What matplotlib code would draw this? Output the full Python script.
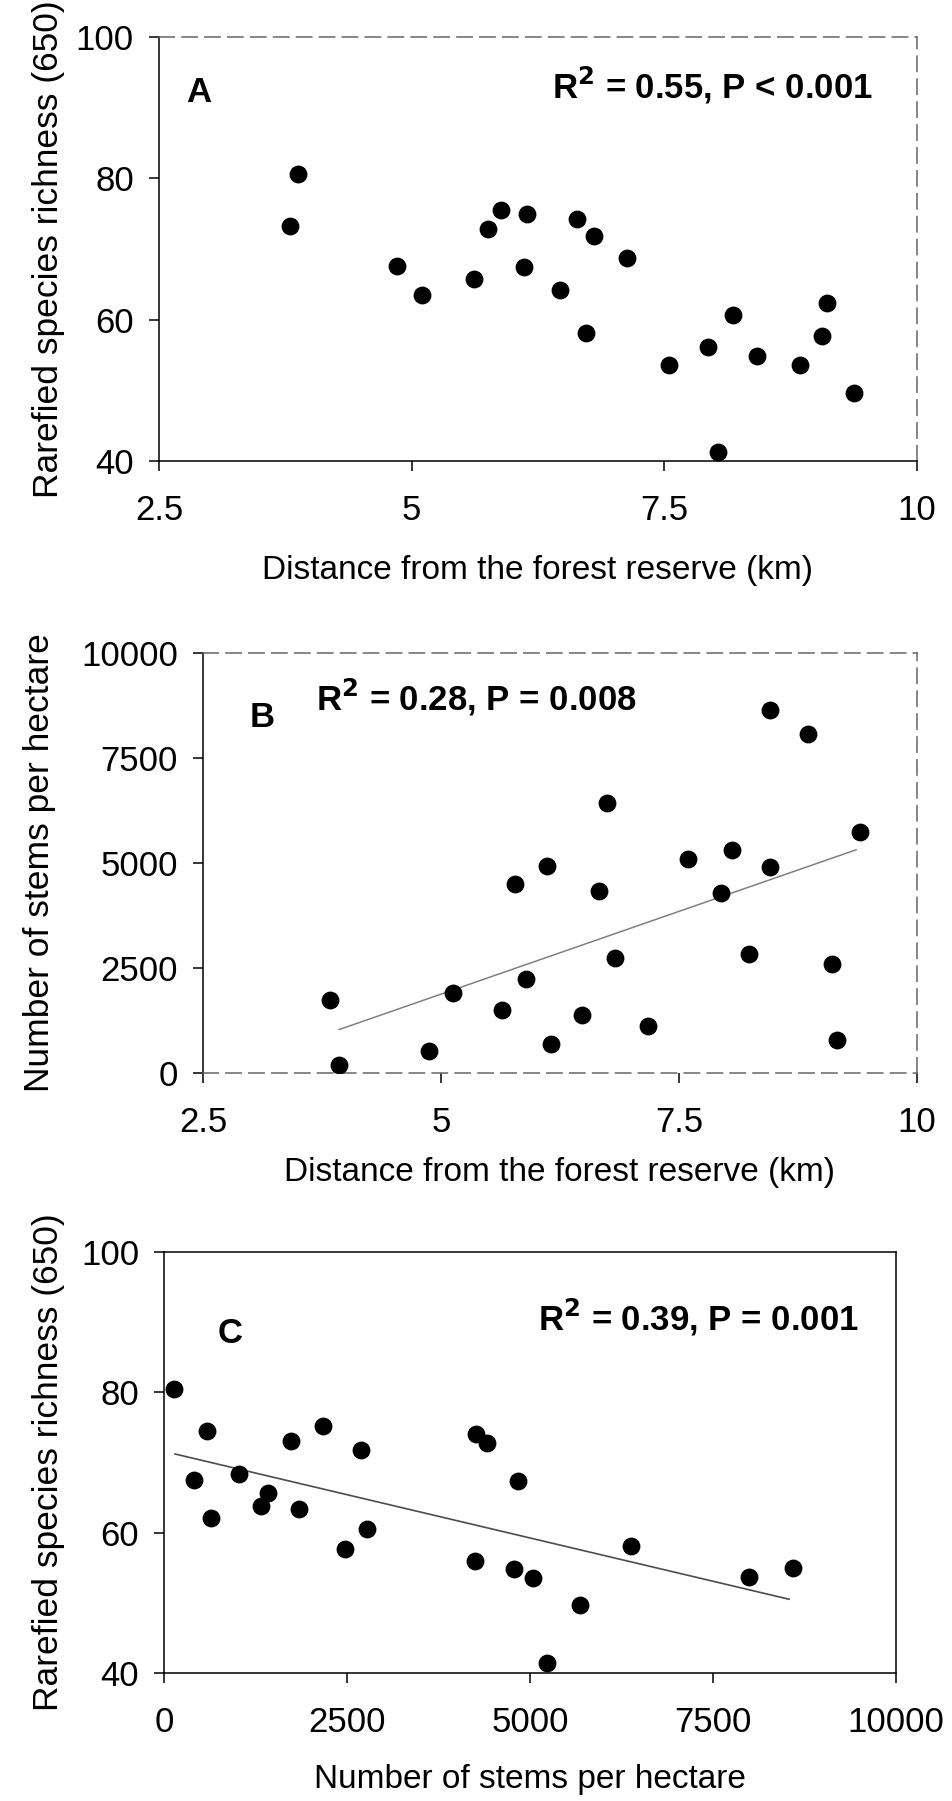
import numpy as np
import matplotlib.pyplot as plt

plt.rcParams['font.family'] = ['Liberation Sans', 'DejaVu Sans']

# panel A: distance vs rarefied richness
dist_a = [3.80, 3.88, 4.86, 5.10, 5.62, 5.76, 5.88, 6.11, 6.14, 6.47, 6.64, 6.73,
          6.80, 7.13, 7.55, 7.93, 8.03, 8.18, 8.42, 8.84, 9.06, 9.11, 9.38]
rich_a = [73.2, 80.6, 67.6, 63.5, 65.7, 72.8, 75.5, 67.4, 75.0, 64.2, 74.3, 58.1,
          71.9, 68.7, 53.6, 56.2, 41.3, 60.7, 54.9, 53.6, 57.7, 62.3, 49.7]

# panel B: distance vs stems per hectare
dist_b = [3.83, 3.93, 4.87, 5.13, 5.64, 5.78, 5.89, 6.11, 6.16, 6.48, 6.66, 6.74,
          6.83, 7.17, 7.59, 7.94, 8.06, 8.24, 8.46, 8.46, 8.86, 9.11, 9.16, 9.40]
stems_b = [1740, 180, 520, 1910, 1490, 4500, 2230, 4920, 680, 1390, 4340, 6440,
           2730, 1120, 5100, 4280, 5310, 2830, 4900, 8650, 8070, 2590, 780, 5750]
trend_b_x = [3.93, 9.36]
trend_b_y = [1035, 5315]

# panel C: stems per hectare vs rarefied richness
stems_c = [133, 415, 590, 648, 1022, 1329, 1420, 1728, 1844, 2168, 2475, 2691,
           2774, 4244, 4261, 4410, 4784, 4842, 5042, 5233, 5689, 6379, 7990, 8588]
rich_c = [80.4, 67.5, 74.5, 62.1, 68.4, 63.8, 65.7, 73.1, 63.3, 75.2, 57.6, 71.7,
          60.5, 56.0, 74.1, 72.7, 54.8, 67.3, 53.6, 41.4, 49.7, 58.1, 53.7, 55.0]
trend_c_x = [150, 8540]
trend_c_y = [71.2, 50.5]

dist_ticks = [2.5, 5, 7.5, 10]
dist_ticklabels = ['2.5', '5', '7.5', '10']
rich_ticks = [40, 60, 80, 100]
stem_ticks = [0, 2500, 5000, 7500, 10000]

fig = plt.figure(figsize=(9.53, 18.01), dpi=100)
axA = fig.add_axes([0.1668, 0.744, 0.7954, 0.2354])
axB = fig.add_axes([0.2130, 0.4042, 0.7492, 0.2332])
axC = fig.add_axes([0.1721, 0.0711, 0.7681, 0.2338])

def style(ax, dashed):
    for s in ['left', 'bottom', 'top', 'right']:
        ax.spines[s].set_linewidth(1.1)
        ax.spines[s].set_color('black')
    if dashed:
        for s in dashed:
            ax.spines[s].set_color('0.4')
            ax.spines[s].set_linestyle((0, (10, 5)))
    ax.tick_params(direction='out', length=7, width=1.1, labelsize=25)
    ax.tick_params(axis='x', pad=17)
    ax.tick_params(axis='y', pad=11)

# A
axA.scatter(dist_a, rich_a, s=140, color='black', zorder=3)
axA.set_xlim(2.5, 10)
axA.set_ylim(40, 100)
axA.set_xticks(dist_ticks)
axA.set_xticklabels(dist_ticklabels)
axA.set_yticks(rich_ticks)
style(axA, ['top', 'right'])
axA.set_xlabel('Distance from the forest reserve (km)', fontsize=24)
axA.set_ylabel('Rarefied species richness (650)', fontsize=25.5)
axA.xaxis.set_label_coords(0.5, -0.222)
axA.yaxis.set_label_coords(-0.124, 0.5)
axA.text(2.77, 92.2, 'A', fontsize=25, fontweight='bold', va='center')
axA.text(9.56, 93.2, 'R$^\\mathbf{2}$ = 0.55, P < 0.001', fontsize=25,
         fontweight='bold', ha='right', va='center')

# B
axB.plot(trend_b_x, trend_b_y, color='0.5', lw=1.1, zorder=2)
axB.scatter(dist_b, stems_b, s=140, color='black', zorder=3)
axB.set_xlim(2.5, 10)
axB.set_ylim(0, 10000)
axB.set_xticks(dist_ticks)
axB.set_xticklabels(dist_ticklabels)
axB.set_yticks(stem_ticks)
style(axB, ['top', 'right', 'bottom'])
axB.set_xlabel('Distance from the forest reserve (km)', fontsize=24)
axB.set_ylabel('Number of stems per hectare', fontsize=25.5)
axB.xaxis.set_label_coords(0.5, -0.2)
axB.yaxis.set_label_coords(-0.206, 0.5)
axB.text(2.99, 8476, 'B', fontsize=25, fontweight='bold', va='center')
axB.text(3.69, 8952, 'R$^\\mathbf{2}$ = 0.28, P = 0.008', fontsize=25,
         fontweight='bold', ha='left', va='center')

# C
axC.plot(trend_c_x, trend_c_y, color='0.3', lw=1.2, zorder=2)
axC.scatter(stems_c, rich_c, s=140, color='black', zorder=3)
axC.set_xlim(0, 10000)
axC.set_ylim(40, 100)
axC.set_xticks(stem_ticks)
axC.set_yticks(rich_ticks)
style(axC, None)
axC.set_xlabel('Number of stems per hectare', fontsize=24)
axC.set_ylabel('Rarefied species richness (650)', fontsize=25.5)
axC.xaxis.set_label_coords(0.5, -0.217)
axC.yaxis.set_label_coords(-0.135, 0.5)
axC.text(738, 88.4, 'C', fontsize=25, fontweight='bold', va='center')
axC.text(9495, 90.6, 'R$^\\mathbf{2}$ = 0.39, P = 0.001', fontsize=25,
         fontweight='bold', ha='right', va='center')

plt.savefig('out.png', dpi=100)
